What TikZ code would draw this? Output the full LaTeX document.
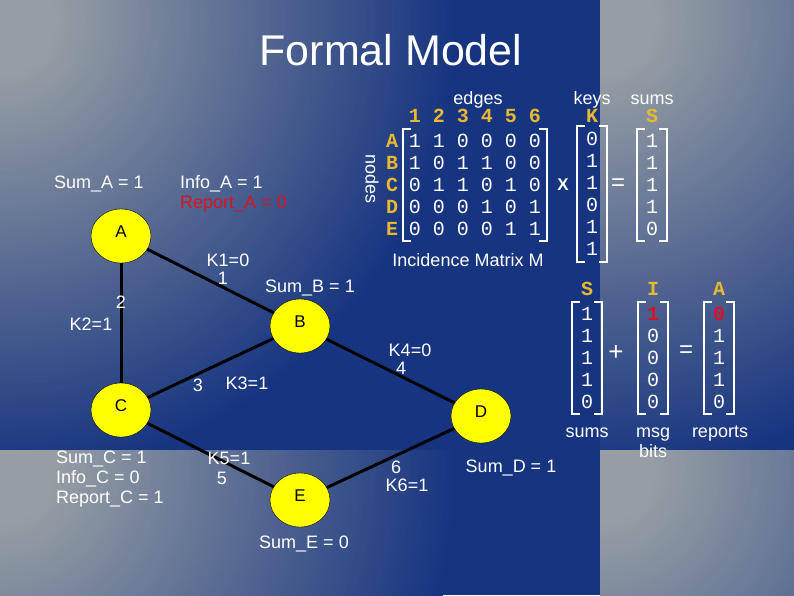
\documentclass[tikz,border=0pt]{standalone}
\usepackage{fontspec}
\setmainfont{Liberation Sans}
\newfontfamily\monofont{Liberation Mono}
\usetikzlibrary{shapes.geometric}

\definecolor{bggray}{RGB}{150,158,164}
\definecolor{bgblue}{RGB}{22,52,128}
\definecolor{keygold}{RGB}{232,184,48}
\definecolor{msgred}{RGB}{215,20,35}
\definecolor{vertexyellow}{RGB}{255,255,0}

% square brackets round a column node
\newcommand{\sqbrk}[1]{%
  \draw[brk] ([xshift=8pt]#1.north west) -| (#1.south west) -- ++(8pt,0);
  \draw[brk] ([xshift=-8pt]#1.north east) -| (#1.south east) -- ++(-8pt,0);}

\begin{document}
\begin{tikzpicture}[x=1pt, y=-1pt,
    vertex/.style={ellipse, draw=black, thin, fill=vertexyellow, minimum width=60pt, minimum height=54pt, inner sep=0pt, text depth=8pt, font=\fontsize{17}{20}\selectfont},
    link/.style={draw=black, line width=3pt},
    lbl/.style={text=white, inner sep=0pt, anchor=base, font=\fontsize{18}{20}\selectfont},
    mono/.style={text=white, inner xsep=9pt, inner ysep=5pt, align=center, anchor=north, font=\monofont\fontsize{20}{22}\selectfont},
    hdr/.style={text=keygold, inner sep=0pt, anchor=base, font=\monofont\bfseries\fontsize{20}{22}\selectfont},
    brk/.style={draw=white, line width=2.5pt}
]

    % Background tiles
    \useasboundingbox (0,0) rectangle (794,595);
    \foreach \tx/\ty/\tw/\th in {0/0/600/450, 600/0/194/450, 0/450/600/145, 600/450/194/145} {
        \begin{scope}
            \clip (\tx,\ty) rectangle ++(\tw,\th);
            \fill[bgblue!100!bggray] (\tx,\ty) rectangle ++(\tw,\th);
            \foreach \r [evaluate=\r as \pct using {min(100,max(0,(\r-55)/4.05))}] in {460,455,...,55}
                \fill[bgblue!\pct!bggray] (\tx,\ty+20) circle (\r);
        \end{scope}
    }

    % Title
    \node [lbl, font=\fontsize{43}{50}\selectfont] (title) at (391,65) {Formal Model};

    % Graph
    \node [vertex] (A) at (121,236) {A};
    \node [vertex] (B) at (300,326) {B};
    \node [vertex] (C) at (121,410) {C};
    \node [vertex] (D) at (481,416) {D};
    \node [vertex] (E) at (300,500) {E};

    \path [link] (A) -- (B);
    \path [link] (A) -- (C);
    \path [link] (C) -- (B);
    \path [link] (B) -- (D);
    \path [link] (C) -- (E);
    \path [link] (E) -- (D);

    % Node and edge labels
    \node [lbl] (sumA) at (99,188) {Sum\_A = 1};
    \node [lbl, anchor=base west] (infoA) at (180,188) {Info\_A = 1};
    \node [lbl, anchor=base west, text=msgred] (reportA) at (180,208) {Report\_A = 0};
    \node [lbl] (k1) at (228,266) {K1=0};
    \node [lbl] (e1) at (223,284) {1};
    \node [lbl] (sumB) at (310,292) {Sum\_B = 1};
    \node [lbl] (e2) at (121,308) {2};
    \node [lbl] (k2) at (91,330) {K2=1};
    \node [lbl] (e3) at (198,391) {3};
    \node [lbl] (k3) at (247,389) {K3=1};
    \node [lbl] (k4) at (410,356) {K4=0};
    \node [lbl] (e4) at (401,374) {4};
    \node [lbl] (k5) at (229,464) {K5=1};
    \node [lbl] (e5) at (222,484) {5};
    \node [lbl] (e6) at (396,473) {6};
    \node [lbl] (k6) at (407,491) {K6=1};
    \node [lbl] (sumD) at (511,472) {Sum\_D = 1};
    \node [lbl] (sumE) at (304,548) {Sum\_E = 0};
    \node [lbl, anchor=north west, align=left] (sumC) at (56,451) {Sum\_C = 1\\Info\_C = 0\\Report\_C = 1};

    % Incidence matrix
    \node [lbl] (edges) at (478,104) {edges};
    \node [hdr] (cols) at (475,122) {1 2 3 4 5 6};
    \node [mono, text=keygold, font=\monofont\bfseries\fontsize{20}{22}\selectfont, inner xsep=0pt] (rows) at (392,129) {A\\B\\C\\D\\E};
    \node [mono, inner xsep=6pt] (matM) at (475,129) {1 1 0 0 0 0\\1 0 1 1 0 0\\0 1 1 0 1 0\\0 0 0 1 0 1\\0 0 0 0 1 1};
    \sqbrk{matM}
    \node [lbl, rotate=-90, anchor=center] (nodes) at (372,179) {nodes};
    \node [lbl] (incid) at (468,266) {Incidence Matrix M};

    % M x K = S
    \node [lbl, anchor=center, font=\bfseries\fontsize{17}{20}\selectfont] (times) at (563,185) {X};
    \node [lbl] (keys) at (592,104) {keys};
    \node [hdr] (hdrK) at (592,122) {K};
    \node [mono, inner ysep=6pt] (vecK) at (592,126) {0\\1\\1\\0\\1\\1};
    \sqbrk{vecK}
    \node [lbl, anchor=center, font=\fontsize{24}{24}\selectfont] (eqA) at (618,185) {=};
    \node [lbl] (sums) at (652,104) {sums};
    \node [hdr] (hdrS) at (652,122) {S};
    \node [mono] (vecS) at (652,129) {1\\1\\1\\1\\0};
    \sqbrk{vecS}

    % S + I = A
    \node [hdr] (hdrS2) at (587,295) {S};
    \node [mono] (vecS2) at (587,302) {1\\1\\1\\1\\0};
    \sqbrk{vecS2}
    \node [lbl, anchor=center, font=\fontsize{26}{26}\selectfont] (plus) at (616,353) {+};
    \node [hdr] (hdrI) at (653,295) {I};
    \node [mono] (vecI) at (653,302) {\textcolor{msgred}{\bfseries 1}\\0\\0\\0\\0};
    \sqbrk{vecI}
    \node [lbl, anchor=center, font=\fontsize{24}{24}\selectfont] (eqB) at (686,352) {=};
    \node [hdr] (hdrA) at (719,295) {A};
    \node [mono] (vecA) at (719,302) {\textcolor{msgred}{\bfseries 0}\\1\\1\\1\\0};
    \sqbrk{vecA}
    \node [lbl] (sumsB) at (587,437) {sums};
    \node [lbl, anchor=north, align=center] (msg) at (653,428) {msg\\bits};
    \node [lbl] (reports) at (720,437) {reports};
\end{tikzpicture}
\end{document}
